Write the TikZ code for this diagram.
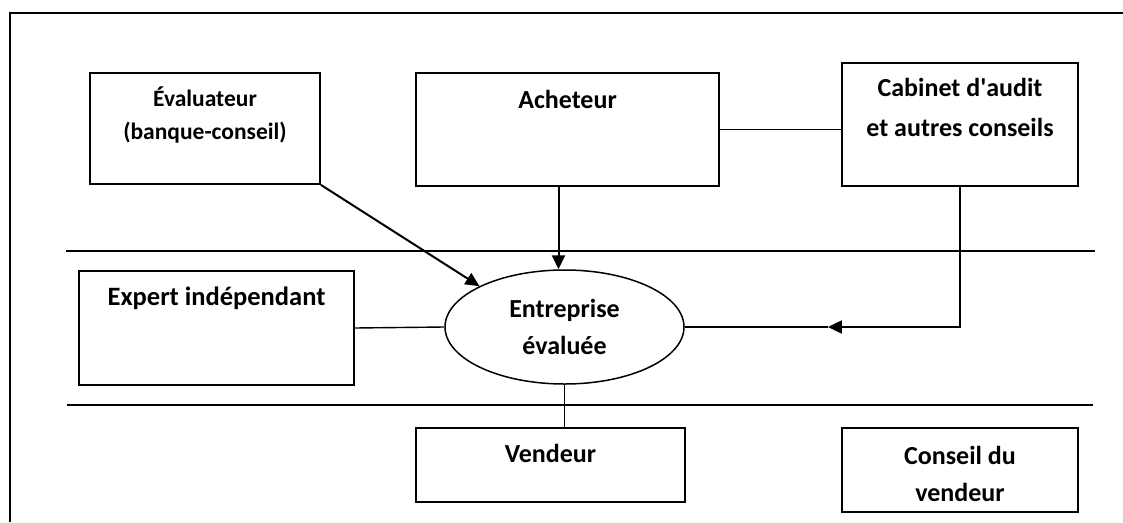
\documentclass[tikz,border=0pt]{standalone}
\usepackage{fontspec}
\setmainfont{Carlito}
\usetikzlibrary{arrows.meta,positioning,calc,shapes.geometric}

\begin{document}
\begin{tikzpicture}[x=1pt,y=-1pt,
  boite/.style={draw,line width=1.8pt,inner sep=0pt},
  texte/.style={font=\bfseries\fontsize{26}{40}\selectfont,align=center,anchor=base,inner sep=0pt},
  trait/.style={line width=1.4pt},
  fleche/.style={line width=2pt,-{Triangle[length=14pt,width=13pt]}}]
  \useasboundingbox (0,0) rectangle (1123,522);
  % cadre de la page
  \draw[line width=1.8pt] (10,522) -- (10,13) -- (1123,13);
  % separations
  \draw[trait] (66,251) -- (1095,251);
  \draw[trait] (67,405) -- (1093,405);
  % boites
  \node[boite,minimum width=230,minimum height=111] (evaluateur) at (205,128.5) {};
  \node[boite,minimum width=303,minimum height=113] (acheteur) at (567.5,129.5) {};
  \node[boite,minimum width=236,minimum height=123] (cabinet) at (960,124.5) {};
  \node[boite,minimum width=275,minimum height=114] (expert) at (216.5,328) {};
  \node[boite,minimum width=269,minimum height=74] (vendeur) at (550.5,465) {};
  \node[boite,minimum width=236,minimum height=84] (conseil) at (960,470) {};
  \node[boite,line width=1.5pt,ellipse,minimum width=239,minimum height=114,
        font=\bfseries\fontsize{26}{37}\selectfont,align=center] (entreprise) at (564.5,327)
        {Entreprise\\évaluée};
  % textes (ancre sur la derniere ligne)
  \node[texte,font=\bfseries\fontsize{23.5}{33}\selectfont] (t-evaluateur) at ($(evaluateur.north)+(0,67)$) {Évaluateur\\(banque-conseil)};
  \node[texte] (t-acheteur) at ($(acheteur.north)+(0,36)$) {Acheteur};
  \node[texte] (t-cabinet) at ($(cabinet.north)+(0,74)$) {Cabinet d\textquotesingle audit\\et autres conseils};
  \node[texte,font=\bfseries\fontsize{26.5}{30}\selectfont] (t-expert) at ($(expert.north)+(0,35)$) {Expert indépendant};
  \node[texte] (t-vendeur) at ($(vendeur.north)+(0,35)$) {Vendeur};
  \node[texte,font=\bfseries\fontsize{26}{37}\selectfont] (t-conseil) at ($(conseil.north)+(0,74)$) {Conseil du\\vendeur};
  % liens
  \draw[fleche] (evaluateur.south east) -- (entreprise.north west);
  \draw[fleche] ([xshift=-6pt]entreprise.north |- acheteur.south) -- ([xshift=-6pt]entreprise.north);
  \draw[trait] (acheteur.east) -- (acheteur.east -| cabinet.west);
  \draw[trait] (expert.east) -- (entreprise.west);
  \coordinate (coude) at (cabinet.south |- entreprise.east);
  \coordinate (pointe) at ($(entreprise.east)!0.52!(coude)$);
  \draw[fleche] (cabinet.south) -- (coude) -- (pointe);
  \draw[trait] (pointe) -- (entreprise.east);
  \draw[trait] (entreprise.south) -- (entreprise.south |- vendeur.north);
\end{tikzpicture}
\end{document}
